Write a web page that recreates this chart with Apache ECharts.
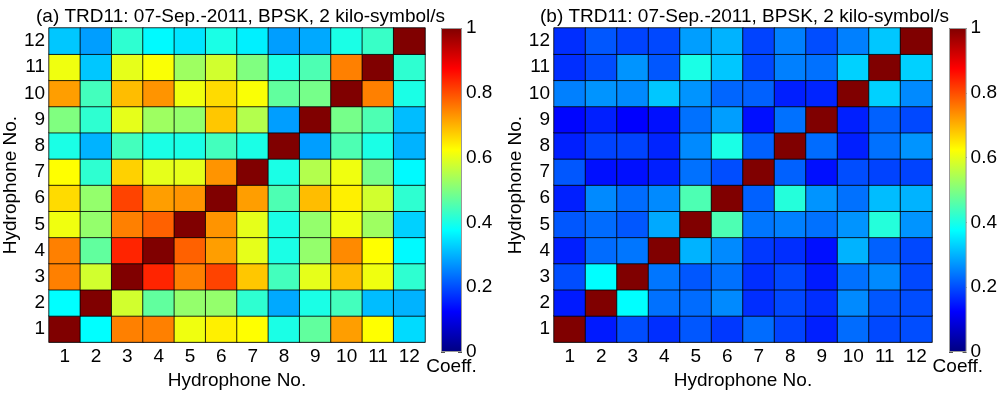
<!DOCTYPE html>
<html><head><meta charset="utf-8">
<script src="https://cdn.jsdelivr.net/npm/echarts@6/dist/echarts.min.js"></script>
<style>html,body{margin:0;padding:0;background:#fff}#c{width:1000px;height:395px}</style>
</head><body><div id="c"></div>
<script>
const hydrophones = ['1','2','3','4','5','6','7','8','9','10','11','12'];
const colorbarLabel = ['Coeff.'];
const titleA = '(a) TRD11: 07-Sep.-2011, BPSK, 2 kilo-symbol/s';
const titleB = '(b) TRD11: 07-Sep.-2011, BPSK, 2 kilo-symbol/s';
const axisName = 'Hydrophone No.';
// jet colormap, evenly spaced from 0 to 1
const jetColors = ['#000080','#0000FF','#0080FF','#00FFFF','#80FF80','#FFFF00','#FF8000','#FF0000','#800000'];

// rows: hydrophone (y) 1..12, columns: hydrophone (x) 1..12
const coeffA = [
  [1.00,0.375,0.75,0.75,0.61,0.64,0.625,0.40,0.47,0.72,0.625,0.34],
  [0.375,1.00,0.58,0.47,0.52,0.52,0.42,0.29,0.40,0.44,0.31,0.30],
  [0.75,0.58,1.00,0.84,0.75,0.81,0.68,0.44,0.60,0.69,0.61,0.42],
  [0.75,0.47,0.84,1.00,0.78,0.72,0.60,0.40,0.52,0.74,0.625,0.37],
  [0.61,0.52,0.75,0.78,1.00,0.73,0.60,0.40,0.52,0.61,0.53,0.33],
  [0.66,0.52,0.81,0.72,0.73,1.00,0.72,0.45,0.69,0.64,0.58,0.42],
  [0.625,0.42,0.67,0.60,0.60,0.73,1.00,0.40,0.55,0.61,0.49,0.37],
  [0.40,0.30,0.44,0.40,0.40,0.44,0.40,1.00,0.28,0.45,0.40,0.30],
  [0.50,0.42,0.60,0.53,0.52,0.68,0.55,0.28,1.00,0.49,0.45,0.31],
  [0.72,0.44,0.69,0.73,0.61,0.66,0.62,0.47,0.49,1.00,0.75,0.40],
  [0.61,0.32,0.60,0.62,0.53,0.58,0.50,0.40,0.45,0.75,1.00,0.42],
  [0.32,0.28,0.42,0.37,0.35,0.40,0.36,0.28,0.29,0.40,0.43,1.00]
];
const coeffB = [
  [1.00,0.15,0.20,0.17,0.21,0.18,0.23,0.19,0.155,0.23,0.195,0.20],
  [0.15,1.00,0.375,0.235,0.23,0.26,0.17,0.195,0.17,0.26,0.21,0.20],
  [0.20,0.375,1.00,0.24,0.21,0.235,0.17,0.195,0.15,0.235,0.26,0.195],
  [0.155,0.23,0.24,1.00,0.30,0.26,0.18,0.17,0.14,0.30,0.22,0.195],
  [0.21,0.23,0.21,0.29,1.00,0.45,0.24,0.25,0.235,0.27,0.41,0.27],
  [0.155,0.26,0.23,0.26,0.45,1.00,0.22,0.41,0.27,0.235,0.31,0.30],
  [0.21,0.14,0.14,0.155,0.235,0.20,1.00,0.22,0.14,0.20,0.19,0.19],
  [0.155,0.19,0.19,0.16,0.26,0.40,0.22,1.00,0.23,0.155,0.235,0.27],
  [0.13,0.155,0.125,0.14,0.235,0.28,0.14,0.235,1.00,0.155,0.22,0.195],
  [0.25,0.27,0.26,0.32,0.27,0.225,0.22,0.155,0.16,1.00,0.33,0.26],
  [0.17,0.20,0.27,0.21,0.40,0.32,0.195,0.25,0.235,0.33,1.00,0.33],
  [0.17,0.21,0.19,0.195,0.28,0.30,0.19,0.25,0.20,0.25,0.32,1.00]
];

function toCells(m){
  const out=[];
  for(let r=0;r<m.length;r++) for(let c=0;c<m[r].length;c++) out.push([c,r,m[r][c]]);
  return out;
}
const FONT='"Liberation Sans", Arial, sans-serif';
const FS=19;
const gradStops = jetColors.map((col,i)=>({offset:1-i/(jetColors.length-1), color:col}));

function heatX(gi){
  return {type:'category',gridIndex:gi,data:hydrophones,
    axisLine:{show:true,lineStyle:{color:'#999',width:1}},axisTick:{show:false},
    axisLabel:{fontSize:FS,fontFamily:FONT,color:'#000',margin:5},
    splitArea:{show:false},
    name:axisName,nameLocation:'middle',nameGap:25,
    nameTextStyle:{fontSize:FS,fontFamily:FONT,color:'#000'}};
}
function heatY(gi){
  return {type:'category',gridIndex:gi,data:hydrophones,
    axisLine:{show:true,lineStyle:{color:'#999',width:1}},axisTick:{show:false},
    axisLabel:{fontSize:FS,fontFamily:FONT,color:'#000',margin:4},
    splitArea:{show:false},
    name:axisName,nameLocation:'middle',nameGap:28,
    nameTextStyle:{fontSize:FS,fontFamily:FONT,color:'#000'}};
}
function cbX(gi){
  return {type:'category',gridIndex:gi,data:colorbarLabel,
    axisLine:{show:false},axisTick:{show:false},
    axisLabel:{fontSize:FS,fontFamily:FONT,color:'#000',margin:5}};
}
function cbY(gi,pos,labels){
  return {type:'value',gridIndex:gi,min:0,max:1,interval:0.2,position:pos,
    axisLine:{show:false},splitLine:{show:false},
    axisTick:{show:true,inside:true,length:4,lineStyle:{color:'#555'}},
    axisLabel:{show:labels,fontSize:FS,fontFamily:FONT,color:'#000',margin:4}};
}
function heatSeries(xi,yi,m){
  return {type:'heatmap',xAxisIndex:xi,yAxisIndex:yi,data:toCells(m),
    itemStyle:{borderColor:'rgba(0,0,0,0.8)',borderWidth:1},
    emphasis:{disabled:true},silent:true,progressive:0};
}
function cbSeries(xi,yi){
  return {type:'bar',xAxisIndex:xi,yAxisIndex:yi,data:[1],barWidth:'100%',silent:true,
    itemStyle:{color:new echarts.graphic.LinearGradient(0,0,0,1,gradStops),borderColor:'#999',borderWidth:1}};
}

const chart = echarts.init(document.getElementById('c'),null,{renderer:'canvas'});
chart.setOption({
  animation:false,
  backgroundColor:'#fff',
  title:[
    {text:titleA,left:31,top:2,textStyle:{fontSize:FS,fontFamily:FONT,fontWeight:'normal',color:'#000'}},
    {text:titleB,left:535,top:2,textStyle:{fontSize:FS,fontFamily:FONT,fontWeight:'normal',color:'#000'}}
  ],
  grid:[
    {left:46,top:28,width:379,height:324},
    {left:441,top:28,width:21,height:324},
    {left:554,top:28,width:378,height:324},
    {left:949,top:28,width:21,height:324}
  ],
  xAxis:[heatX(0),cbX(1),heatX(2),cbX(3)],
  yAxis:[heatY(0),cbY(1,'right',true),cbY(1,'left',false),heatY(2),cbY(3,'right',true),cbY(3,'left',false)],
  visualMap:[
    {type:'continuous',show:false,min:0,max:1,seriesIndex:0,inRange:{color:jetColors}},
    {type:'continuous',show:false,min:0,max:1,seriesIndex:2,inRange:{color:jetColors}}
  ],
  series:[heatSeries(0,0,coeffA),cbSeries(1,1),heatSeries(2,3,coeffB),cbSeries(3,4)]
});
</script></body></html>
